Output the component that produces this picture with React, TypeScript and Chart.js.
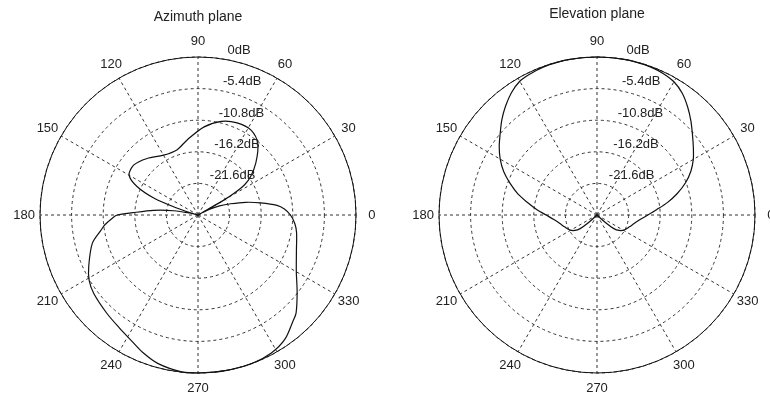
import React, { useEffect, useRef } from 'react';
import { Chart, registerables } from 'chart.js';

Chart.register(...registerables);

// ---- data (angle in degrees, gain in dB) ----
const AZ_ANGLES = [0, 4, 7, 11, 15, 19, 23, 26, 28, 29, 30, 31, 33, 36, 42, 50, 58, 67, 76, 86, 98, 108, 120, 132, 142, 150, 155, 159, 162, 164, 165, 167, 170, 174, 178, 180, 182, 186, 189, 195, 205, 211, 217, 227, 235, 242, 248, 255, 264, 270, 280, 290, 298, 305, 312, 315, 322, 330, 340, 350, 355];
const AZ_DB = [-11.2, -12.2, -13.4, -16.1, -18.6, -21.1, -23.0, -24.5, -26.0, -27, -22.0, -19.8, -17.5, -15.9, -13.7, -11.1, -9.9, -9.9, -10.5, -11.9, -14.0, -15.3, -15.2, -14.0, -13.1, -13.4, -15.5, -18.9, -23.3, -26.0, -27, -25.5, -22.8, -19.4, -15.8, -13.2, -12.4, -11.0, -10.2, -8.3, -6.4, -5.3, -4.7, -4.1, -3.5, -2.7, -1.7, -0.7, -0.05, 0, 0, 0, -0.3, -1.1, -2.7, -3.3, -5.5, -7.6, -9.1, -9.9, -10.4];

const EL_ANGLES = [0, 5, 10, 15, 20, 25, 30, 35, 40, 45, 50, 55, 60, 65, 70, 75, 80, 90, 100, 105, 110, 115, 120, 125, 130, 135, 140, 145, 150, 155, 160, 165, 170, 175, 180, 186, 193, 200, 209, 215, 219, 222, 224, 316, 318, 321, 325, 331, 340, 347, 354];
const EL_DB = [-18.3, -16.8, -14.8, -12.8, -10.9, -9.3, -8.0, -6.9, -5.7, -4.3, -2.9, -1.6, -0.7, -0.3, -0.1, -0.05, 0, 0, 0, -0.05, -0.1, -0.3, -0.6, -1.5, -2.7, -4.0, -5.4, -6.6, -7.9, -9.4, -11.2, -13.0, -15.0, -16.7, -18.3, -19.6, -20.5, -21.1, -21.7, -22.4, -23.3, -25.0, -27, -27, -25.0, -23.3, -22.4, -21.7, -21.1, -20.5, -19.6];

const RING_VALUES = [-27, -21.6, -16.2, -10.8, -5.4, 0];
const RING_LABELS = ['', '-21.6dB', '-16.2dB', '-10.8dB', '-5.4dB', '0dB'];
const SPOKE_ANGLES = [0, 30, 60, 90, 120, 150, 180, 210, 240, 270, 300, 330];
const SPOKE_LABELS = ['0', '30', '60', '90', '120', '150', '180', '210', '240', '270', '300', '330'];
const RING_LABEL_ANGLE = 82;

const R_MIN = -27;
const R_MAX = 0;
const FONT = '13px "Liberation Sans", Arial, sans-serif';
const TITLE_FONT = '14px "Liberation Sans", Arial, sans-serif';

// one label per degree, ordered so that angles run counter-clockwise from the right
const ANGLE_LABELS = Array.from({ length: 360 }, (_, i) => String((360 - i) % 360));
const indexOf = (deg: number) => (360 - (deg % 360)) % 360;

function toSeries(angles: number[], db: number[]) {
  const arr: (number | null)[] = new Array(360).fill(null);
  angles.forEach((a, k) => {
    arr[indexOf(a)] = db[k];
  });
  return arr;
}

function makeLabelPlugin(title: string, titleY: number) {
  return {
    id: 'polarLabels',
    afterDraw(chart: any) {
      const s = chart.scales.r;
      const ctx = chart.ctx as CanvasRenderingContext2D;
      ctx.save();
      // solid outer circle
      ctx.setLineDash([]);
      ctx.strokeStyle = '#111';
      ctx.lineWidth = 1;
      ctx.beginPath();
      ctx.arc(s.xCenter, s.yCenter, s.drawingArea, 0, Math.PI * 2);
      ctx.stroke();

      ctx.font = FONT;
      ctx.fillStyle = '#222';
      // angle labels
      ctx.textAlign = 'center';
      ctx.textBaseline = 'middle';
      SPOKE_ANGLES.forEach((a, k) => {
        const p = s.getPointPosition(indexOf(a), s.drawingArea * 1.1);
        ctx.fillText(SPOKE_LABELS[k], p.x, p.y);
      });
      // ring labels
      ctx.textAlign = 'left';
      ctx.textBaseline = 'bottom';
      const rinc = s.drawingArea / (RING_VALUES.length - 1);
      RING_VALUES.forEach((v, k) => {
        if (!RING_LABELS[k]) return;
        const d = s.getDistanceFromCenterForValue(v) + rinc / 20;
        const p = s.getPointPosition(indexOf(RING_LABEL_ANGLE), d);
        ctx.fillText('  ' + RING_LABELS[k], p.x, p.y);
      });
      // title
      ctx.font = TITLE_FONT;
      ctx.textAlign = 'center';
      ctx.textBaseline = 'alphabetic';
      ctx.fillText(title, s.xCenter, titleY);
      ctx.restore();
    },
  };
}

type PolarProps = {
  title: string;
  titleY: number;
  angles: number[];
  db: number[];
  padLeft: number;
  padRight: number;
};

function PolarChart({ title, titleY, angles, db, padLeft, padRight }: PolarProps) {
  const ref = useRef<HTMLCanvasElement | null>(null);
  useEffect(() => {
    if (!ref.current) return;
    const chart = new Chart(ref.current, {
      type: 'radar',
      data: {
        labels: ANGLE_LABELS,
        datasets: [
          {
            data: toSeries(angles, db),
            borderColor: '#111',
            borderWidth: 1.2,
            pointRadius: 0,
            pointHoverRadius: 0,
            fill: false,
            spanGaps: true,
            tension: 0.3,
          } as any,
        ],
      },
      options: {
        animation: false,
        responsive: false,
        maintainAspectRatio: false,
        events: [],
        layout: { padding: { left: padLeft, right: padRight, top: 57, bottom: 27 } },
        plugins: {
          legend: { display: false },
          tooltip: { enabled: false },
          title: { display: false },
        },
        scales: {
          r: {
            min: R_MIN,
            max: R_MAX,
            startAngle: 90,
            afterBuildTicks: (scale: any) => {
              scale.ticks = RING_VALUES.map((v) => ({ value: v }));
            },
            ticks: { display: false },
            pointLabels: { display: false },
            grid: { circular: true, color: '#333', lineWidth: 1 },
            border: { dash: [3, 3] },
            angleLines: {
              display: true,
              color: '#333',
              lineWidth: (c: any) => (c.index % 30 === 0 ? 1 : 0),
              borderDash: [3, 3],
            },
          } as any,
        },
      },
      plugins: [makeLabelPlugin(title, titleY)],
    });
    return () => chart.destroy();
  }, [title, titleY, angles, db, padLeft, padRight]);
  return <canvas ref={ref} width={385} height={400} style={{ display: 'block' }} />;
}

export default function App() {
  return (
    <div style={{ position: 'absolute', left: 0, top: 0, width: 770, height: 400, background: '#fff', overflow: 'hidden' }}>
      <div style={{ position: 'absolute', left: 0, top: 0 }}>
        <PolarChart title="Azimuth plane" titleY={21} angles={AZ_ANGLES} db={AZ_DB} padLeft={40} padRight={29} />
      </div>
      <div style={{ position: 'absolute', left: 385, top: 0 }}>
        <PolarChart title="Elevation plane" titleY={18} angles={EL_ANGLES} db={EL_DB} padLeft={54} padRight={15} />
      </div>
    </div>
  );
}
